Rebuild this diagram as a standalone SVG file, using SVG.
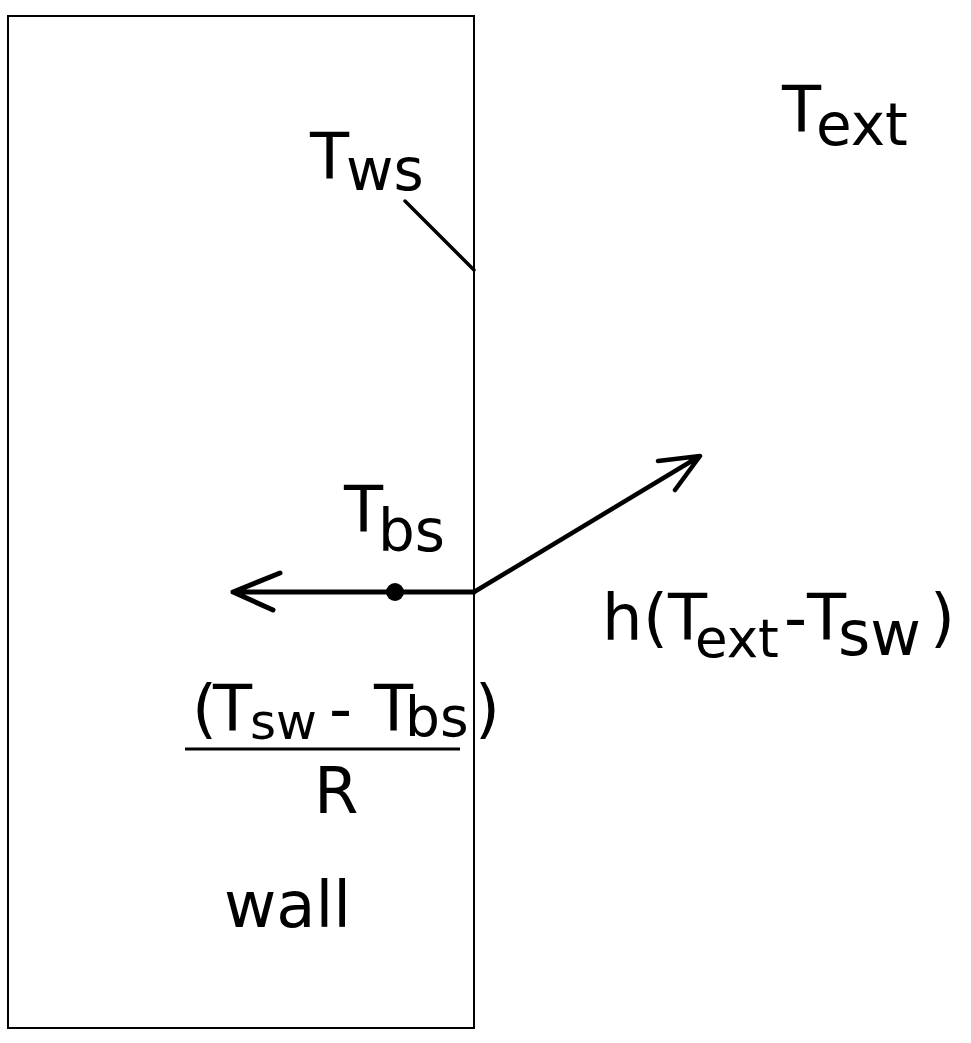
<svg xmlns="http://www.w3.org/2000/svg" width="971" height="1043" viewBox="0 0 971 1043">
<style>
text{font-family:"DejaVu Sans",sans-serif;fill:#000}
.m{font-size:64px}
.s{font-size:58px}
.ln{stroke:#000;fill:none;stroke-linecap:round;stroke-linejoin:round}
</style>
<rect width="971" height="1043" fill="#fff"/>
<g id="wall">
<rect x="8" y="16" width="466" height="1012" fill="none" stroke="#000" stroke-width="2"/>
<text class="m" x="224" y="927">wall</text>
</g>
<g id="Text">
<text class="m"><tspan x="782" y="132">T</tspan><tspan class="s" x="816" y="145">ext</tspan></text>
</g>
<g id="Tws">
<text class="m"><tspan x="310" y="179">T</tspan><tspan class="s" x="346" y="190">ws</tspan></text>
</g>
<g id="Tbs">
<text class="m"><tspan x="344" y="532">T</tspan><tspan class="s" x="378" y="551">bs</tspan></text>
<circle cx="395" cy="592" r="9" fill="#000"/>
</g>
<g id="hflux">
<text class="m"><tspan x="602" y="640">h</tspan><tspan x="643" y="640">(</tspan><tspan x="668" y="640">T</tspan><tspan x="695" y="657" font-size="53">ext</tspan><tspan x="784" y="640">-</tspan><tspan x="807" y="640">T</tspan><tspan x="838" y="655" font-size="62">sw</tspan><tspan x="930" y="640">)</tspan></text>
</g>
<g id="condflux">
<text class="m"><tspan x="192" y="731">(</tspan><tspan x="213" y="731">T</tspan><tspan x="250" y="739" font-size="50">sw</tspan><tspan x="329" y="731">-</tspan><tspan x="374" y="731">T</tspan><tspan x="405" y="736" font-size="55">bs</tspan><tspan x="475" y="731">)</tspan></text>
<line x1="185" y1="749" x2="460" y2="749" stroke="#000" stroke-width="3"/>
<text class="m" x="314" y="813">R</text>
</g>
<g id="connectors">
<line class="ln" x1="405" y1="201" x2="474" y2="270" stroke-width="3.5"/>
<path class="ln" d="M474 592 H233 M280 573 L233 592 L273 610" stroke-width="5"/>
<path class="ln" d="M474 592 L700 456 M658 461 L700 456 L675 490" stroke-width="4.5"/>
</g>
</svg>
